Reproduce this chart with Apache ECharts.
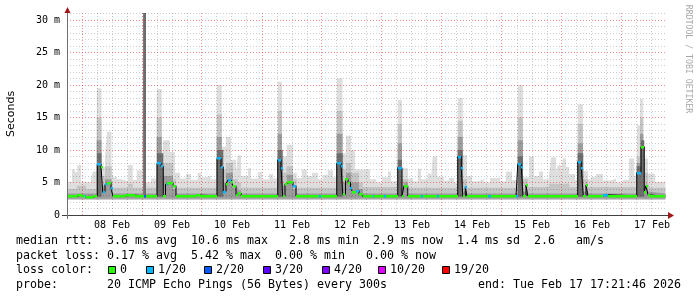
<!DOCTYPE html>
<html><head><meta charset="utf-8">
<script src="https://cdn.jsdelivr.net/npm/echarts@6/dist/echarts.min.js"></script>
<style>html,body{margin:0;padding:0;background:#fff}#c{width:697px;height:297px}</style>
</head><body><div id="c"></div>
<script>
// x values: hours since 08 Feb 00:00 ; y values: milliseconds
const tStart = -6;
const tEnd = 233.36;
const dayLabels = ['08 Feb','09 Feb','10 Feb','11 Feb','12 Feb','13 Feb','14 Feb','15 Feb','16 Feb','17 Feb'];
const yTickValues = [0,5,10,15,20,25,30];
const lossLabels = ['0','1/20','2/20','3/20','4/20','10/20','19/20'];
const lossColors = ['#26ff00','#00b8ff','#0059ff','#5e00ff','#7e00ff','#dd00ff','#ff0000'];

// median rtt: [t, value, lossIndex] (value holds until next t)
const median = [
[-6,2.9,0],[-2,3.05,0],[0,2.85,0],[1,2.9,1],[1.6,2.75,0],[4.4,3.0,0],
[6.1,7.8,1],[7.6,7.4,0],[8.3,3.5,1],[9.2,4.7,1],[10,5.0,0],[11.6,4.2,1],[12.3,2.95,0],
[17.2,3.05,0],[21.2,2.95,0],[24.6,2.95,2],[25.6,2.95,0],
[30,7.95,1],[31.6,7.5,1],[32.5,2.9,0],[33.4,4.7,1],[34,5.0,0],[36.4,4.5,0],[37.6,2.95,0],
[45.6,3.05,0],[47.2,2.95,0],
[54,8.7,1],[55.6,7.4,1],[56.5,3.6,1],[57.6,4.8,0],[58.4,5.4,1],[59.6,5.1,0],[60.4,4.5,0],[61.6,3.1,0],[62.4,3.4,0],[63.6,3.0,0],
[69.6,2.85,0],
[78.3,8.5,1],[79.6,7.2,1],[80.3,2.9,0],[81.2,4.8,0],[81.9,5.1,0],[84.4,4.5,1],[85.6,2.9,0],
[94.8,2.9,1],[95.8,2.9,0],
[101.9,7.95,1],[103.6,7.5,1],[104.3,3.2,0],[105.4,5.5,0],[106.4,5.0,0],[107.4,4.1,1],[108.2,3.6,0],[109.6,3.75,1],[110.8,3.2,0],[112.3,2.85,0],
[116.3,2.9,1],[117,2.9,0],[120.8,2.9,1],[121.6,2.9,0],
[126.3,7.3,1],[128,2.95,0],[128.8,4.5,0],[130.3,2.95,0],
[135.6,2.9,1],[136.4,2.9,0],[142,2.9,1],[142.8,2.9,0],
[150.3,9.0,1],[151.7,7.3,1],[152.3,2.9,0],[153.3,4.3,1],[154,2.9,0],
[162.4,2.9,1],[163.6,2.9,0],[173.6,2.95,1],
[174.3,7.8,1],[175.7,7.4,1],[176.4,2.95,0],[177.6,4.6,0],[178.3,2.95,0],
[198.3,8.2,1],[199.7,7.3,1],[200.5,2.95,0],[201.6,4.6,0],[202.4,2.95,0],
[208.4,3.1,1],[210.4,2.95,0],
[221.9,6.5,1],[223.6,10.5,0],[224.9,3.6,0],[225.6,4.5,0],[226.4,3.1,0],[227.2,2.9,0]
];

// smoke layers: [t, top]
const smokeMax = [
[-6,5.1],[-4,7.0],[-2.8,6.6],[-1.9,7.7],[-0.4,5.1],[1.6,5.0],[3.6,5.6],[4.3,6.7],[5.9,19.5],[7.8,7.4],[9.2,9.0],[10,12.8],[11.8,8.0],[12.4,5.9],[14,5.5],[16,5.2],[18.4,7.7],[20.3,5.4],[21.9,6.9],[23.9,5.2],[24.5,31.1],[25.6,5.0],[27.6,5.6],
[29.9,19.4],[31.9,8.5],[32.5,11.5],[35.2,9.7],[37.2,6.5],[39.2,5.6],[41.6,6.3],[43.6,5.4],[46.3,6.5],[47.6,5.8],[49.6,6.1],[51.6,5.5],
[53.9,20.0],[55.9,10.5],[57.6,12.0],[59.6,8.5],[61.6,6.5],[62.3,9.2],[63.6,6.0],[66.4,7.2],[67.6,5.6],[70.4,6.6],[72,5.5],[74.8,6.3],[76.4,5.6],
[78.3,20.5],[80,9.0],[81.9,10.8],[84.3,6.5],[85.9,5.7],[87.9,7.0],[89.9,6.0],[92,6.5],[94.4,5.5],[96.4,6.2],[98.4,6.9],[100.4,5.8],
[101.9,21.0],[104.2,9.5],[105.6,12.2],[107.6,10.0],[109.2,7.0],[115.2,5.5],[117.6,5.0],[120,5.8],[122.4,6.7],[123.6,5.2],
[126.3,17.7],[128,7.2],[130.4,5.6],[132.4,5.2],[134.3,7.1],[135.6,5.5],[138.3,6.4],[139.6,5.6],[140.3,9.0],[142.1,5.9],[144.8,5.3],[146.8,5.7],[148.8,5.0],
[150.3,18.0],[152.3,9.2],[154,6.0],[156,5.2],[158.4,5.5],[160.8,5.0],[163.2,5.7],[167.2,5.2],[169.6,6.7],[172,5.4],
[174.3,20.0],[176.4,5.8],[178.8,9.0],[180.8,6.0],[182.8,6.7],[184.4,5.5],[186.8,6.2],[187.6,8.9],[189.6,6.5],[190.3,7.7],[191.6,6.3],[192.3,8.7],[193.6,7.4],[194.9,6.3],[197.2,5.4],
[198.3,17.0],[200.4,6.8],[202.4,5.5],[203.6,5.9],[205.6,6.3],[208.4,5.3],[211.6,5.6],[213.6,5.0],[216.3,5.4],[218.8,8.7],[220.9,6.0],
[222,13.8],[223.2,17.9],[224.5,8.7],[226.4,6.4],[229.2,5.1]
];
const smokeMid = [
[-6,4.0],[-2,4.5],[1.6,4.0],[5.9,15],[7.8,6.0],[9.2,7.5],[11.8,5.5],[12.4,4.2],[18.4,4.8],[20.3,4.2],[24.5,31.1],[25.6,4.2],
[29.9,15],[31.9,6.5],[32.5,8.0],[36.4,5.5],[37.6,4.2],
[53.9,15.5],[55.9,7.0],[57.6,8.0],[60.4,5.5],[62.3,5.0],[63.6,4.2],
[78.3,16],[80,6.5],[81.9,7.5],[84.4,5.5],[85.9,4.2],
[101.9,16],[104.2,7.0],[105.6,8.0],[107.6,6.5],[110.8,5.0],[112.4,4.3],
[126.3,14],[128,5.5],[130.4,4.2],
[150.3,14.5],[152.3,5.5],[154,4.2],
[174.3,15],[176.4,5.5],[178.3,4.3],[186.8,4.8],[194.9,4.3],
[198.3,14],[200.4,5.5],[202.4,4.3],
[221.9,9],[223.2,15],[224.5,6.5],[226.4,5.0],[227.2,4.2]
];
const smokeDark = [
[-6,3.3],[5.9,11.5],[7.8,4.5],[9.2,5.5],[11.8,4.0],[12.4,3.3],[24.5,31.1],[25.6,3.3],
[29.9,12],[31.9,4.5],[32.5,6.0],[36.4,4.0],[37.6,3.3],
[53.9,12],[55.9,5.0],[57.6,6.5],[60.4,4.2],[62.3,3.8],[63.6,3.3],
[78.3,12.5],[80,4.5],[81.9,6.2],[84.4,4.0],[85.9,3.3],
[101.9,12.5],[104.2,5.0],[105.6,6.5],[107.6,5.0],[110.8,4.0],[112.4,3.3],
[126.3,11],[128,3.6],[128.8,5.0],[130.4,3.3],
[150.3,12],[152.3,3.6],[153.3,5.0],[154,3.3],
[174.3,11.5],[176.4,3.6],[177.6,5.2],[178.3,3.3],
[198.3,11],[200.4,3.6],[201.6,5.2],[202.4,3.3],
[221.9,8.0],[223.2,12.5],[224.5,4.5],[225.6,5.2],[226.4,3.6],[227.2,3.3]
];
const smokeCore = [
[-6,2.8],[6.1,9.5],[7.8,2.8],[24.5,31.1],[25.6,2.8],[30,9.5],[32.5,2.8],[54,10],[56.5,2.8],
[78.3,10],[80.3,2.8],[101.9,9.5],[104.3,2.8],[126.3,8.5],[128,2.8],[150.3,10],[152.3,2.8],
[174.3,9],[176.4,2.8],[198.3,9.5],[200.5,2.8],[221.9,7.5],[223.6,11.5],[224.9,2.8]
];

const legendRows = [
  'median rtt:  3.6 ms avg  10.6 ms max   2.8 ms min  2.9 ms now  1.4 ms sd  2.6   am/s',
  'packet loss: 0.17 % avg  5.42 % max  0.00 % min   0.00 % now',
  'loss color:',
  'probe:       20 ICMP Echo Pings (56 Bytes) every 300s'
];
const endText = 'end: Tue Feb 17 17:21:46 2026';

// ---------- build ----------
const chart = echarts.init(document.getElementById('c'), null, {renderer:'canvas'});
const MONO = '"DejaVu Sans Mono", monospace';
const withEnd = d => d.concat([[tEnd, d[d.length-1][1]]]);

function smoke(data, base, color, z){
  return {type:'line', step:'end', data: withEnd(data), symbol:'none', silent:true,
    lineStyle:{width:0, opacity:0}, areaStyle:{color, opacity:1, origin: base}, z, animation:false};
}

// grid lines
const gridItems = [];
for (let t = tStart + 6; t < tEnd; t += 6) {
  gridItems.push([t, ((t % 24) === 0) ? 1 : 0, 'v']);
}
for (let v = 1; v <= 31; v++) gridItems.push([v, (v % 5 === 0) ? 1 : 0, 'h']);

const gridSeries = {
  type:'custom', silent:true, z:3, animation:false, clip:false,
  data: gridItems.map((g,i)=>[i, 0]),
  renderItem: (params, api) => {
    const g = gridItems[params.dataIndex];
    const cs = params.coordSys;
    const color = g[1] ? 'rgba(230,0,0,0.45)' : 'rgba(0,0,0,0.2)';
    const dash = [1,2];
    if (g[2] === 'v') {
      const x = Math.floor(api.coord([g[0], 0])[0]) + 0.5;
      return {type:'line', shape:{x1:x, y1:cs.y, x2:x, y2:cs.y+cs.height}, style:{stroke:color, lineWidth:1, lineDash:dash}};
    } else {
      const y = Math.floor(api.coord([0, g[0]])[1]) + 0.5;
      return {type:'line', shape:{x1:cs.x, y1:y, x2:cs.x+cs.width, y2:y}, style:{stroke:color, lineWidth:1, lineDash:dash}};
    }
  }
};

const medianLine = {type:'line', step:'end', data: withEnd(median.map(d=>[d[0],d[1]])), symbol:'none',
  lineStyle:{color:'#000', width:1}, z:5, silent:true, animation:false};

const lossSeries = {
  type:'custom', z:6, silent:true, animation:false,
  data: median.map((d,i)=>[d[0], i+1<median.length ? median[i+1][0] : tEnd, d[1], d[2]]),
  encode:{x:[0,1], y:2},
  renderItem: (params, api) => {
    const p0 = api.coord([api.value(0), api.value(2)]);
    const p1 = api.coord([api.value(1), api.value(2)]);
    const x0 = Math.round(p0[0]), x1 = Math.round(p1[0]);
    return {type:'rect', shape:{x:x0, y:Math.round(p0[1])-1, width:Math.max(1,x1-x0), height:2.5},
      style:{fill: lossColors[api.value(3)]}};
  }
};

const graphics = [];
graphics.push({type:'line', shape:{x1:62, y1:215.5, x2:670, y2:215.5}, style:{stroke:'#404040', lineWidth:1}, z:20});
graphics.push({type:'line', shape:{x1:67.5, y1:12, x2:67.5, y2:219}, style:{stroke:'#707070', lineWidth:1}, z:20});
graphics.push({type:'polygon', shape:{points:[[668,212],[674,215.5],[668,219]]}, style:{fill:'#a01818'}, z:21});
graphics.push({type:'polygon', shape:{points:[[64.5,13],[67.5,7],[70.5,13]]}, style:{fill:'#a01818'}, z:21});
graphics.push({type:'text', x:11, y:114, rotation:Math.PI/2, style:{text:'Seconds', font:'11px "DejaVu Sans"', fill:'#000', textAlign:'center', textVerticalAlign:'middle'}, z:20});
graphics.push({type:'text', x:688, y:59, rotation:-Math.PI/2, style:{text:'RRDTOOL / TOBI OETIKER', font:'8.2px ' + MONO, fill:'#a8a8a8', textAlign:'center', textVerticalAlign:'middle'}, z:20});
const rowY = [241, 255.5, 270, 284.5];
legendRows.forEach((txt, i) => {
  graphics.push({type:'text', x:16, y:rowY[i], style:{text:txt, font:'11.63px ' + MONO, fill:'#000', textAlign:'left', textVerticalAlign:'middle'}, z:20});
});
graphics.push({type:'text', x:681, y:rowY[3], style:{text:endText, font:'11.63px ' + MONO, fill:'#000', textAlign:'right', textVerticalAlign:'middle'}, z:20});
const boxX = [108, 146, 204, 263, 322, 378, 442];
const lossTextX = [120, 158, 216, 275, 334, 390, 454];
lossLabels.forEach((lab, i) => {
  graphics.push({type:'rect', shape:{x:boxX[i]+0.5, y:266.5, width:7, height:7}, style:{fill:lossColors[i], stroke:'#000', lineWidth:1}, z:20});
  graphics.push({type:'text', x:lossTextX[i], y:rowY[2], style:{text:lab, font:'11.63px ' + MONO, fill:'#000', textAlign:'left', textVerticalAlign:'middle'}, z:20});
});

chart.setOption({
  animation:false,
  backgroundColor:'#fff',
  grid:{left:67, right:31.6, top:13, bottom:82, containLabel:false},
  xAxis:{type:'value', min:tStart, max:tEnd, interval:6,
    axisLine:{show:false}, axisTick:{show:false}, splitLine:{show:false},
    axisLabel:{margin:5, fontSize:10, fontFamily:MONO, color:'#000',
      formatter: v => { const k = (v - 12) / 24; return (Number.isInteger(k) && k >= 0 && k < dayLabels.length) ? dayLabels[k] : ''; }}
  },
  yAxis:{type:'value', min:0, max:31.08, interval:5,
    axisLine:{show:false}, axisTick:{show:false}, splitLine:{show:false},
    axisLabel:{margin:7, fontSize:10, fontFamily:MONO, color:'#000',
      formatter: v => yTickValues.indexOf(v) < 0 ? '' : (v === 0 ? '0' : v + ' m')}
  },
  series:[
    smoke(smokeMax, 2.35, '#dedede', 1),
    smoke(smokeMid, 2.35, '#c4c4c4', 1),
    smoke(smokeDark, 2.5, '#9c9c9c', 1),
    smoke(smokeCore, 2.8, '#6e6e6e', 1),
    gridSeries,
    medianLine,
    lossSeries
  ],
  graphic: graphics
});
</script>
</body></html>
